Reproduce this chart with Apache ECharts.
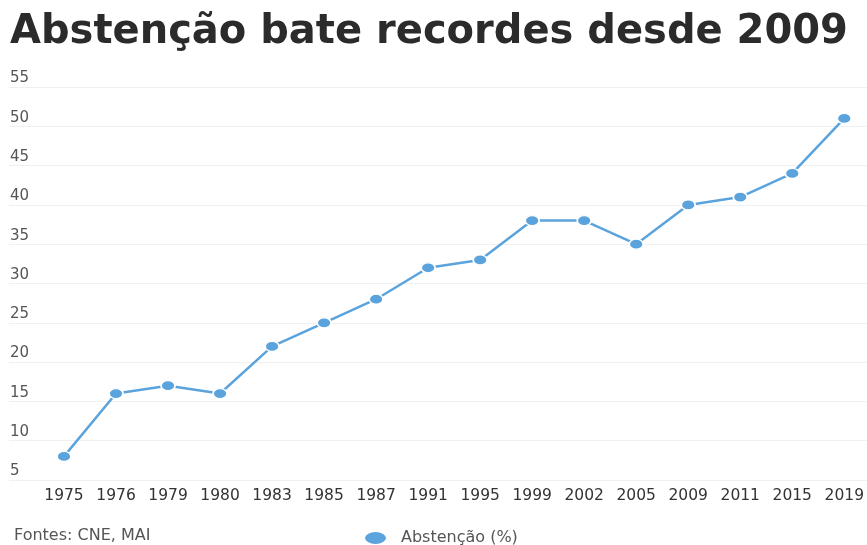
<!DOCTYPE html>
<html>
<head>
<meta charset="utf-8">
<script src="https://cdn.jsdelivr.net/npm/echarts@6/dist/echarts.min.js"></script>
<style>html,body{margin:0;padding:0;background:#fff}#c{width:867px;height:545px}</style>
</head>
<body>
<div id="c"></div>
<script>
const titleText = 'Abstenção bate recordes desde 2009';
const sourceText = 'Fontes: CNE, MAI';
const seriesName = 'Abstenção (%)';
const years = ['1975','1976','1979','1980','1983','1985','1987','1991','1995','1999','2002','2005','2009','2011','2015','2019'];
const abstention = [8, 16, 17, 16, 22, 25, 28, 32, 33, 38, 38, 35, 40, 41, 44, 51];
const yMin = 5, yMax = 55, yStep = 5;

const ellipse = 'path://M0,50 A50,50 0 1,1 100,50 A50,50 0 1,1 0,50 Z';
const blue = '#5ba3dc';

const chart = echarts.init(document.getElementById('c'), null, {renderer: 'canvas'});
chart.setOption({
  animation: false,
  title: {
    text: titleText, left: 10, top: 13, padding: 0,
    textStyle: {fontFamily: 'DejaVu Sans', fontWeight: 'bold', fontSize: 40, color: '#2b2b2b'}
  },
  legend: {
    data: [{name: seriesName, icon: ellipse}],
    left: 363, top: 530, padding: 0, itemWidth: 23, itemHeight: 14,
    symbolKeepAspect: false,
    textStyle: {fontFamily: 'DejaVu Sans', fontSize: 16, color: '#555', padding: [0, 0, 0, 9]}
  },
  graphic: [{
    type: 'text', left: 14, top: 528,
    style: {text: sourceText, font: '16px "DejaVu Sans"', fill: '#555'}
  }],
  grid: [
    {left: 64, right: 22, top: 87, bottom: 65},
    {left: 9, right: 0, top: 87, bottom: 65}
  ],
  xAxis: [
    {type: 'category', gridIndex: 0, data: years, boundaryGap: false,
     axisLine: {show: false}, axisTick: {show: false}, splitLine: {show: false},
     axisLabel: {margin: 8, fontFamily: 'DejaVu Sans', fontSize: 15.5, color: '#333', interval: 0}},
    {type: 'value', gridIndex: 1, show: false}
  ],
  yAxis: [
    {type: 'value', gridIndex: 0, min: yMin, max: yMax, interval: yStep, show: false},
    {type: 'value', gridIndex: 1, min: yMin, max: yMax, interval: yStep,
     axisLine: {show: false}, axisTick: {show: false},
     splitLine: {lineStyle: {color: '#f0f0f0', width: 1}},
     axisLabel: {inside: true, margin: 1, verticalAlign: 'bottom', padding: [0, 0, 1, 0],
                 fontFamily: 'DejaVu Sans', fontSize: 15, color: '#555'}}
  ],
  series: [{
    name: seriesName, type: 'line', xAxisIndex: 0, yAxisIndex: 0,
    data: abstention,
    symbol: ellipse, symbolSize: [14, 10],
    lineStyle: {color: blue, width: 2.5},
    itemStyle: {color: blue, borderColor: '#fff', borderWidth: 1.5}
  }]
});
</script>
</body>
</html>
